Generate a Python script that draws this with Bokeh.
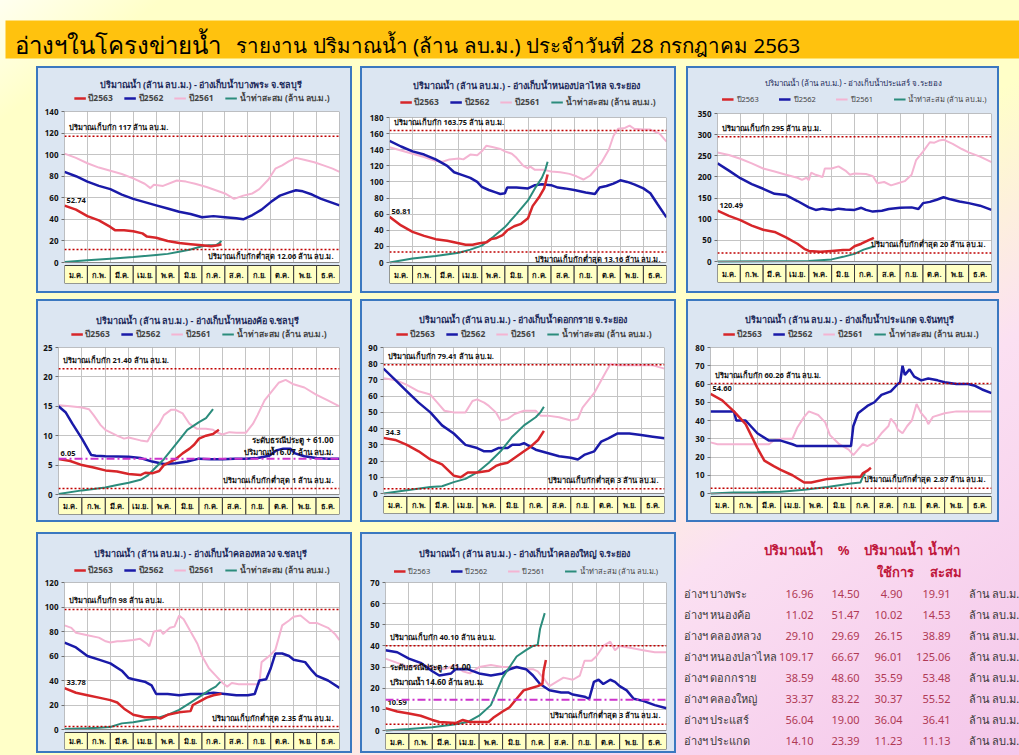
from bokeh.plotting import figure
from bokeh.layouts import column, row
from bokeh.models import Range1d, FixedTicker, Span, Label, Legend, LegendItem, Spacer, ColumnDataSource
from bokeh.core.properties import value
from bokeh.embed import file_html
from bokeh.resources import INLINE

FONT = "Noto Sans"

MONTHS = ["ม.ค.", "ก.พ.", "มี.ค.", "เม.ย.", "พ.ค.", "มิ.ย.", "ก.ค.", "ส.ค.", "ก.ย.", "ต.ค.", "พ.ย.", "ธ.ค."]
SERIES_LABELS = ["ปี2563", "ปี2562", "ปี2561", "น้ำท่าสะสม (ล้าน ลบ.ม.)"]

TITLES = [
    "ปริมาณน้ำ (ล้าน ลบ.ม.) - อ่างเก็บน้ำบางพระ  จ.ชลบุรี",
    "ปริมาณน้ำ (ล้าน ลบ.ม.) - อ่างเก็บน้ำหนองปลาไหล  จ.ระยอง",
    "ปริมาณน้ำ (ล้าน ลบ.ม.) - อ่างเก็บน้ำประแสร์  จ.ระยอง",
    "ปริมาณน้ำ (ล้าน ลบ.ม.) - อ่างเก็บน้ำหนองค้อ  จ.ชลบุรี",
    "ปริมาณน้ำ (ล้าน ลบ.ม.) - อ่างเก็บน้ำดอกกราย  จ.ระยอง",
    "ปริมาณน้ำ (ล้าน ลบ.ม.) - อ่างเก็บน้ำประแกด  จ.จันทบุรี",
    "ปริมาณน้ำ (ล้าน ลบ.ม.) - อ่างเก็บน้ำคลองหลวง  จ.ชลบุรี",
    "ปริมาณน้ำ (ล้าน ลบ.ม.) - อ่างเก็บน้ำคลองใหญ่  จ.ระยอง",
]
Y_MAX = [140, 180, 350, 25, 90, 80, 120, 70]
Y_STEP = [20, 20, 50, 5, 10, 10, 20, 10]
CAPACITY = [117, 163.75, 295, 21.40, 79.41, 60.26, 98, 40.10]
CAPACITY_TXT = ["117", "163.75", "295", "21.40", "79.41", "60.26", "98", "40.10"]
MIN_STORAGE = [12.06, 13.16, 20, 1, 3, 2.87, 2.35, 3]
MIN_TXT = ["12.06", "13.16", "20", "1", "3", "2.87", "2.35", "3"]
START_TXT = ["52.74", "56.81", "120.49", "6.05", "34.3", "54.60", "33.78", "10.59"]
SILL_LEVEL = [None, None, None, 6.07, None, None, None, 14.60]
SILL_TXT = [None, None, None, "61.00", None, None, None, "41.00"]

# (month position, million m3)
BANGPHRA_2561 = [(0,101),(0.5,97),(1,92),(1.5,88),(2,85),(2.5,82),(3,78),(3.5,73),(3.75,69),(3.9,72),(4.3,71),(4.9,76),(5.3,75),(5.7,73),(6.2,70),(6.6,67),(7.0,64),(7.4,59),(7.8,62),(8.2,64),(8.5,68),(8.9,77),(9.2,87),(9.5,90),(9.8,94),(10.1,97),(10.5,95),(10.9,93),(11.3,90),(11.7,87),(12,84)]
BANGPHRA_2562 = [(0,84),(0.5,80),(1,75),(1.5,71),(2,68),(2.5,63),(3,59),(3.5,56),(4,53),(4.5,50),(5,47),(5.5,45),(6,42),(6.5,43),(7,42),(7.5,41),(7.8,40),(8.2,44),(8.6,49),(9,56),(9.4,62),(9.8,65),(10.1,67),(10.4,66),(10.8,63),(11.2,59),(11.6,56),(12,53)]
BANGPHRA_2563 = [(0,52.74),(0.5,49),(1,43),(1.5,39),(2,33),(2.2,30),(2.6,30),(3,29),(3.4,27),(3.6,24),(4,23),(4.5,20),(5,18),(5.5,17),(6,16),(6.4,15),(6.7,16),(6.85,16.96)]
BANGPHRA_ACC = [(0,0.5),(1,2),(2,3.5),(3,5),(4,7),(4.5,8),(5,10),(5.5,12),(6,15),(6.3,16),(6.6,16),(6.75,18),(6.85,19.91)]

NONGPLALAI_2561 = [(0,143),(0.5,139),(1,135),(1.5,131),(2,126),(2.3,125),(2.6,128),(3,129),(3.2,128),(3.5,134),(3.8,133),(4,138),(4.2,145),(4.5,143),(4.8,141),(5,138),(5.3,135),(5.5,130),(5.8,120),(6,117),(6.1,119),(6.3,115),(6.7,115),(7,113),(7.4,112),(7.8,110),(8.1,107),(8.4,103),(8.7,108),(9,118),(9.2,125),(9.5,140),(9.7,157),(9.9,166),(10.2,167),(10.4,170),(10.6,166),(11,165),(11.3,165),(11.7,160),(12,150)]
NONGPLALAI_2562 = [(0,151),(0.5,144),(1,138),(1.5,134),(2,128),(2.5,120),(2.8,112),(3.1,109),(3.5,105),(3.8,100),(4,94),(4.3,90),(4.6,87),(4.8,85),(5,86),(5.1,93),(5.5,93),(6,92),(6.3,96),(6.6,97),(7,96),(7.3,93),(7.6,92),(8,90),(8.5,87),(8.9,85),(9.1,93),(9.4,95),(9.7,98),(10,102),(10.3,100),(10.6,97),(11,92),(11.3,86),(11.6,73),(12,56)]
NONGPLALAI_2563 = [(0,56.81),(0.5,46),(1,38),(1.5,33),(2,29),(2.5,27),(3,24),(3.3,22),(3.6,22),(3.9,24),(4.2,25),(4.4,29),(4.6,30),(4.9,34),(5.1,40),(5.4,45),(5.7,48),(6,55),(6.2,70),(6.5,82),(6.7,92),(6.85,109.17)]
NONGPLALAI_ACC = [(0,0),(1,5),(2,8),(3,12),(3.5,16),(4,21),(4.5,32),(5,44),(5.5,60),(6,77),(6.3,92),(6.6,105),(6.75,115),(6.85,125.06)]

PRASAE_2561 = [(0,258),(0.5,252),(1,243),(1.5,232),(2,220),(2.5,213),(3,205),(3.5,198),(3.7,193),(3.9,198),(4,192),(4.1,210),(4.3,205),(4.6,200),(4.7,220),(5,220),(5.3,225),(5.6,215),(5.8,205),(6,208),(6.5,207),(6.8,202),(7,185),(7.3,188),(7.6,180),(7.9,185),(8.2,190),(8.5,205),(8.7,240),(9,260),(9.3,282),(9.5,281),(9.7,286),(9.9,288),(10.3,278),(10.7,266),(11,258),(11.5,248),(12,235)]
PRASAE_2562 = [(0,232),(0.5,215),(1,197),(1.5,183),(2,172),(2.5,160),(3,157),(3.5,143),(4,128),(4.3,122),(4.6,125),(5,122),(5.3,125),(5.6,123),(6,122),(6.3,127),(6.5,122),(6.8,118),(7.2,120),(7.5,124),(8,127),(8.5,128),(8.8,124),(9,138),(9.3,141),(9.6,146),(9.9,152),(10.2,147),(10.6,142),(11,138),(11.5,132),(12,122)]
PRASAE_2563 = [(0,120.49),(0.5,108),(1,98),(1.5,85),(2,75),(2.5,70),(3,57),(3.5,42),(3.8,30),(4,25),(4.5,23),(5,25),(5.5,27),(5.8,28),(6,36),(6.3,42),(6.6,50),(6.85,56.04)]
PRASAE_ACC = [(0,0),(4,1),(4.5,3),(5,5),(5.5,11),(6,18),(6.4,28),(6.7,33),(6.85,36.41)]

NONGKHO_2561 = [(0,15.2),(0.5,15),(1,14.8),(1.3,14.5),(1.5,13.5),(1.8,11.8),(2,11),(2.5,10),(2.8,9.5),(3,9.7),(3.5,9.2),(3.8,9),(4,10.5),(4.3,12),(4.5,13.5),(4.8,14.4),(5,14.4),(5.3,13.8),(5.6,12),(5.9,11.2),(6.3,11.2),(6.6,11),(6.8,10.5),(7,10.2),(7.3,10.6),(7.6,10.5),(8,10.5),(8.3,12),(8.5,13.5),(8.8,16),(9.1,17.5),(9.4,19),(9.7,19.5),(10,18.8),(10.5,18.2),(11,17),(11.5,16),(12,15)]
NONGKHO_2562 = [(0,15),(0.3,14),(0.6,12),(1,9.5),(1.4,6.7),(1.6,6.6),(2,6.5),(3,6.4),(3.5,6.2),(4,5.6),(4.5,5.2),(5,5.3),(5.5,5.6),(6,6.1),(6.5,6),(7,6),(7.5,6.1),(8,6.1),(8.5,6.2),(9,6.6),(9.3,7.5),(9.6,7.8),(9.9,7.8),(10.1,7),(10.5,6.5),(11,6.2),(11.5,6.1),(12,6.1)]
NONGKHO_2563 = [(0,6.05),(0.5,5.7),(1,5),(1.5,4.6),(2,4.1),(2.5,3.9),(3,3.5),(3.5,3.3),(3.7,3.7),(4,3.6),(4.3,4),(4.5,5),(5,6),(5.3,7),(5.6,7.8),(5.8,8.5),(6,9.5),(6.3,10),(6.6,10.3),(6.85,11.02)]
NONGKHO_ACC = [(0,0.1),(1,0.7),(2,1.2),(2.5,1.6),(3,2),(3.5,2.5),(3.8,3.2),(4,4),(4.5,6),(5,8.5),(5.5,11),(6,12.3),(6.3,13),(6.5,14),(6.6,14.53)]

DOKKRAI_2561 = [(0,71),(0.5,70),(1,67),(1.5,63),(2,61),(2.3,56),(2.6,51),(3,50),(3.5,50),(3.8,57),(4,58),(4.3,56),(4.5,54),(4.8,50),(5,45),(5.3,46),(5.6,49),(6,51),(6.5,51),(6.7,48),(7,48),(7.5,47),(8,45),(8.3,46),(8.5,53),(9,62),(9.5,75),(9.7,80),(10,79),(10.5,79),(11,79),(11.5,79),(12,77)]
DOKKRAI_2562 = [(0,77),(0.5,70),(1,63),(1.5,56),(2,50),(2.5,42),(3,37),(3.5,30),(4,28),(4.3,26),(4.6,26),(4.9,28),(5.3,28),(5.5,30),(5.8,30),(6,31),(6.5,27),(7,25),(7.5,23),(8,22),(8.3,21),(8.6,24),(9,26),(9.3,32),(9.6,34),(10,37),(10.5,37),(11,36),(11.5,35),(12,34)]
DOKKRAI_2563 = [(0,34.3),(0.5,33),(1,30),(1.5,26),(2,21),(2.5,18),(3,11),(3.3,10),(3.6,13),(4,13),(4.5,14),(4.8,17),(5,18),(5.3,19),(5.5,21),(6,26),(6.3,29),(6.6,33),(6.85,38.59)]
DOKKRAI_ACC = [(0,0),(1,2),(2,4),(2.5,4.5),(3,7),(3.5,9),(4,13),(4.5,19),(5,26),(5.5,35),(6,42),(6.5,47),(6.7,50),(6.85,53.48)]

PRAKAED_2561 = [(0,28),(0.3,27),(1,27),(2,27),(2.5,27),(2.7,29),(3,30),(3.5,30),(3.7,36),(4,42),(4.2,45),(4.6,43),(4.9,39),(5.1,32),(5.5,27),(5.9,24),(6.1,21),(6.3,24),(6.5,27),(6.7,26),(7,28),(7.3,33),(7.6,37),(7.7,41),(7.9,38),(8,35),(8.2,33),(8.4,37),(8.6,40),(8.8,49),(9,44),(9.2,41),(9.3,38),(9.5,42),(10,44),(10.5,45),(12,45)]
PRAKAED_2562 = [(0,45),(1,45),(1.1,40),(1.5,40),(2,33),(2.5,29),(3,29),(3.5,27),(3.7,26),(6,26),(6.1,37),(6.3,44),(6.7,48),(7,50),(7.3,54),(7.7,56),(8,60),(8.1,61),(8.2,70),(8.3,65),(8.5,68),(8.7,64),(9,62),(9.3,63),(9.7,62),(10,61),(10.5,60),(11,60),(11.3,59),(11.6,57),(12,55)]
PRAKAED_2563 = [(0,54.6),(0.5,51),(1,45),(1.5,38),(2,25),(2.3,18),(2.7,15),(3,13),(3.5,10),(4,6),(4.3,6),(5,8),(5.5,8.5),(6,9),(6.4,9),(6.5,11),(6.7,12.5),(6.85,14.1)]
PRAKAED_ACC = [(0,0),(1,0.5),(2,0.7),(3,1),(4,2),(5,3.5),(6,5.5),(6.4,6),(6.5,9),(6.6,11.13)]

KHLONGLUANG_2561 = [(0,85),(0.3,83),(0.5,79),(1,77),(1.5,75),(1.8,72),(2,71),(2.3,72),(2.5,72),(3,73),(3.3,74),(3.6,70),(3.7,68),(3.9,80),(4.2,81),(4.3,78),(4.6,83),(4.8,84),(5,93),(5.2,90),(5.5,80),(5.8,70),(6,60),(6.3,50),(6.6,44),(6.9,38),(7.1,35),(7.3,38),(7.6,37),(8,37),(8.5,37),(8.6,55),(9,61),(9.2,65),(9.5,85),(9.8,89),(10,92),(10.3,93),(10.5,90),(10.7,87),(11,87),(11.5,83),(11.8,78),(12,73)]
KHLONGLUANG_2562 = [(0,71),(0.5,67),(1,60),(1.5,57),(2,54),(2.5,48),(2.8,42),(3,41),(3.5,39),(3.8,36),(4,29),(4.5,29),(5,28),(5.5,29),(6,29),(6.5,30),(7,29),(7.5,28),(8,28),(8.3,29),(8.5,40),(8.8,41),(9,50),(9.2,62),(9.5,62),(9.8,60),(10,57),(10.5,55),(10.8,48),(11,44),(11.5,40),(12,34)]
KHLONGLUANG_2563 = [(0,33.78),(0.5,30),(1,28),(1.5,26),(2,24),(2.3,22),(2.6,17),(3,12),(3.5,10),(4,10),(4.2,9),(4.5,12),(5,14),(5.5,15),(5.6,20),(5.9,23),(6.2,26),(6.5,28),(6.85,29.1)]
KHLONGLUANG_ACC = [(0,0.5),(1,1),(1.5,1.5),(2,2),(2.5,5),(3,6),(3.5,7.5),(4,9),(4.5,12),(5,16),(5.5,22),(6,28),(6.4,33),(6.6,35),(6.8,38.89)]

KHLONGYAI_2561 = [(0,34),(0.5,32),(1,30),(1.5,31),(2,30),(2.5,29),(3,31),(3.3,28),(3.6,27),(4,30),(4.5,31),(5,30),(5.5,30),(6,29),(6.3,29),(6.5,28),(6.8,24),(7,21),(7.3,23),(7.6,25),(8,24),(8.3,26),(8.5,33),(8.8,33),(9,35),(9.3,40),(9.6,42),(9.8,38),(10,40),(10.5,39),(11,38),(11.5,37),(12,37)]
KHLONGYAI_2562 = [(0,38),(0.5,37),(1,34),(1.5,32),(2,28),(2.3,26),(2.8,27),(3,29),(3.5,29),(4,27),(4.5,26),(5,27),(5.3,29),(5.6,30),(6,29),(6.3,26),(6.6,22),(7,19),(7.5,18),(7.8,18),(8,17),(8.5,16),(8.7,15),(8.9,23),(9.1,24),(9.3,22),(9.6,24),(9.8,23),(10,21),(10.3,19),(10.6,15),(11,14),(11.5,12),(12,10.5)]
KHLONGYAI_2563 = [(0,10.59),(0.5,9),(1,8),(1.5,7),(2,5),(2.3,4),(3,3.5),(3.3,5),(3.6,4),(4,4),(4.4,4),(4.6,6),(5,9),(5.3,11),(5.6,15),(5.9,19),(6.2,20),(6.5,21),(6.7,22),(6.75,28),(6.85,33.37)]
KHLONGYAI_ACC = [(0,0),(1,0.7),(2,1.5),(3,3),(3.5,4),(4,7),(4.5,12),(5,25),(5.3,30),(5.6,35),(6,38),(6.3,40),(6.5,40.5),(6.6,48),(6.8,55.52)]

SERIES = [
    (BANGPHRA_2563, BANGPHRA_2562, BANGPHRA_2561, BANGPHRA_ACC),
    (NONGPLALAI_2563, NONGPLALAI_2562, NONGPLALAI_2561, NONGPLALAI_ACC),
    (PRASAE_2563, PRASAE_2562, PRASAE_2561, PRASAE_ACC),
    (NONGKHO_2563, NONGKHO_2562, NONGKHO_2561, NONGKHO_ACC),
    (DOKKRAI_2563, DOKKRAI_2562, DOKKRAI_2561, DOKKRAI_ACC),
    (PRAKAED_2563, PRAKAED_2562, PRAKAED_2561, PRAKAED_ACC),
    (KHLONGLUANG_2563, KHLONGLUANG_2562, KHLONGLUANG_2561, KHLONGLUANG_ACC),
    (KHLONGYAI_2563, KHLONGYAI_2562, KHLONGYAI_2561, KHLONGYAI_ACC),
]

# table
TABLE_NAMES = ["อ่างฯ บางพระ", "อ่างฯ หนองค้อ", "อ่างฯ คลองหลวง", "อ่างฯ หนองปลาไหล",
               "อ่างฯ ดอกกราย", "อ่างฯ คลองใหญ่", "อ่างฯ ประแสร์", "อ่างฯ ประแกด"]
TABLE_VOLUME = ["16.96", "11.02", "29.10", "109.17", "38.59", "33.37", "56.04", "14.10"]
TABLE_PCT = ["14.50", "51.47", "29.69", "66.67", "48.60", "83.22", "19.00", "23.39"]
TABLE_USABLE = ["4.90", "10.02", "26.15", "96.01", "35.59", "30.37", "36.04", "11.23"]
TABLE_INFLOW = ["19.91", "14.53", "38.89", "125.06", "53.48", "55.52", "36.41", "11.13"]
TABLE_UNIT = "ล้าน ลบ.ม."
TABLE_HEAD1 = ["ปริมาณน้ำ", "%", "ปริมาณน้ำ", "น้ำท่า"]
TABLE_HEAD2 = ["", "", "ใช้การ", "สะสม"]

# ---------------- styling ----------------
COLORS = ["#D7262A", "#1A1AA8", "#F4B4D2", "#2B8C7C"]
WIDTHS = [2.5, 2.5, 2, 2]
PANEL_BG = "#DCE6F2"
PANEL_EDGE = "#3B78C0"
# panel geometry: width, height, frame left, right, top, zero-line, bottom, title y, legend y
GEOM = [
    (316, 227, 28, 303, 45, 196, 217, 18, 34),
    (316, 227, 29, 306, 51, 196, 217, 19, 38),
    (313, 227, 31, 305, 47, 195, 216, 16, 34),
    (316, 223, 22, 303, 48, 195, 215, 21, 37),
    (316, 223, 23, 304, 48, 194, 214, 20, 37),
    (313, 223, 24, 305, 48, 194, 214, 20, 37),
    (316, 221, 28, 303, 50, 197, 217, 21, 40),
    (316, 221, 25, 306, 50, 198, 217, 21, 40),
]
MIN_BELOW = [True, True, False, False, False, False, False, False]
SMALL_LEGEND = [False, False, True, False, False, False, False, True]


def build_panel(i):
    w, h, L, R, T, Z, B, ty, ly = GEOM[i]
    top_h = ly + 5
    ch = h - top_h
    small = SMALL_LEGEND[i]

    # ---- title + legend strip ----
    top = figure(width=w, height=top_h, x_range=Range1d(0, w), y_range=Range1d(top_h, 0),
                 output_backend="svg", toolbar_location=None,
                 min_border_left=0, min_border_right=0, min_border_top=0, min_border_bottom=0,
                 background_fill_alpha=0, border_fill_alpha=0, outline_line_color=None)
    top.axis.visible = False
    top.grid.visible = False
    top.add_layout(Label(x=w / 2, y=ty, text=TITLES[i], text_align="center", text_baseline="middle",
                         text_font=FONT, text_font_size=("8px" if i == 2 else "9px"),
                         text_font_style=("normal" if i == 2 else "bold"), text_color="#1C2A5A"))
    proxies = []
    for k in range(4):
        xs = [a for a, b in SERIES[i][k]]
        ys = [b for a, b in SERIES[i][k]]
        proxies.append(top.line(xs, ys, line_color=COLORS[k], line_width=WIDTHS[k], visible=False))
    items = [LegendItem(label=SERIES_LABELS[k], renderers=[proxies[k]]) for k in range(4)]
    leg = Legend(items=items, orientation="horizontal", location="bottom_center",
                 label_text_font=FONT, label_text_font_size=("7.5px" if small else "8.5px"),
                 label_text_font_style=("normal" if small else "bold"),
                 glyph_width=12, glyph_height=8, spacing=(20 if small else 11), label_standoff=3,
                 padding=0, margin=0, background_fill_alpha=0, border_line_alpha=0,
                 label_height=10, inactive_fill_alpha=0)
    top.add_layout(leg)

    # ---- chart ----
    ymax = Y_MAX[i]
    plot_px = Z - T
    ystart = -ymax * (B - Z) / plot_px
    gap = ymax * 3.0 / plot_px
    p = figure(width=w, height=ch, x_range=Range1d(0, 12), y_range=Range1d(ystart, ymax),
               output_backend="svg", toolbar_location=None,
               min_border_left=L, min_border_right=w - R, min_border_top=T - top_h,
               min_border_bottom=h - B,
               background_fill_color="white", border_fill_alpha=0, outline_line_color=None)
    p.xaxis.visible = False
    p.xgrid.ticker = FixedTicker(ticks=list(range(len(MONTHS) + 1)))
    yt = list(range(0, ymax + 1, Y_STEP[i]))
    p.yaxis.ticker = FixedTicker(ticks=yt)
    p.ygrid.ticker = FixedTicker(ticks=yt)
    for g in (p.xgrid, p.ygrid):
        g.grid_line_color = "#C4C4C4"
        g.grid_line_width = 1
    ax = p.yaxis[0]
    ax.axis_line_color = None
    ax.major_tick_line_color = "#707070"
    ax.major_tick_out = 3
    ax.major_tick_in = 0
    ax.minor_tick_line_color = None
    ax.major_label_text_font = FONT
    ax.major_label_text_font_size = "8px"
    ax.major_label_text_font_style = "bold"
    ax.major_label_text_color = "#111111"
    ax.major_label_standoff = 3

    p.quad(left=[0], right=[len(MONTHS)], bottom=[ystart], top=[0],
           fill_color=PANEL_BG, line_color=None)
    src = ColumnDataSource(dict(left=list(range(len(MONTHS))), right=list(range(1, len(MONTHS) + 1)),
                                mid=[k + 0.5 for k in range(len(MONTHS))], lab=MONTHS))
    p.quad(left="left", right="right", bottom=ystart, top=-gap, source=src,
           fill_color="#FFFFC4", line_color="#3A3A3A", line_width=1)
    p.text(x="mid", y=(ystart - gap) / 2, text="lab", source=src, text_align="center",
           text_baseline="middle", text_font=value(FONT), text_font_size="7.5px",
           text_font_style="bold", text_color="#111111")

    renderers = []
    for k, ser in enumerate(SERIES[i]):
        xs = [a for a, b in ser]
        ys = [b for a, b in ser]
        r = p.line(xs, ys, line_color=COLORS[k], line_width=WIDTHS[k])
        renderers.append(r)
    p.renderers = p.renderers[:3] + [renderers[2], renderers[1], renderers[3], renderers[0]]

    p.quad(left=[0], right=[len(MONTHS)], bottom=[0], top=[ymax], fill_color=None,
           line_color="#8A8A8A", line_width=1)

    p.add_layout(Span(location=CAPACITY[i], dimension="width", line_color="#C00000",
                      line_dash="2 2", line_width=1.5))
    p.add_layout(Span(location=MIN_STORAGE[i], dimension="width", line_color="#C00000",
                      line_dash="2 2", line_width=1.5))
    lab_style = dict(text_font=FONT, text_font_size="7.5px", text_font_style="bold", text_color="#111111")
    p.add_layout(Label(x=0, y=CAPACITY[i], x_offset=4, y_offset=4,
                       text="ปริมาณเก็บกัก %s ล้าน ลบ.ม." % CAPACITY_TXT[i], **lab_style))
    p.add_layout(Label(x=len(MONTHS), y=MIN_STORAGE[i], x_offset=-6,
                       y_offset=(-12 if MIN_BELOW[i] else 4), text_align="right",
                       text="ปริมาณเก็บกักต่ำสุด %s ล้าน ลบ.ม." % MIN_TXT[i], **lab_style))
    p.add_layout(Label(x=0, y=SERIES[i][0][0][1], x_offset=2, y_offset=3,
                       text=START_TXT[i], **lab_style))
    if SILL_LEVEL[i] is not None:
        p.add_layout(Span(location=SILL_LEVEL[i], dimension="width", line_color="#CC33CC",
                          line_dash="8 3 2 3", line_width=2))
        sill_style = dict(lab_style, text_font_size="8px")
        if i == 3:
            p.add_layout(Label(x=len(MONTHS), y=SILL_LEVEL[i], x_offset=-6, y_offset=14,
                               text_align="right", text="ระดับธรณีประตู + %s" % SILL_TXT[i], **sill_style))
            p.add_layout(Label(x=len(MONTHS), y=SILL_LEVEL[i], x_offset=-6, y_offset=2,
                               text_align="right", text="ปริมาณน้ำ %.2f ล้าน ลบ.ม." % SILL_LEVEL[i], **sill_style))
        else:
            p.add_layout(Label(x=0, y=SILL_LEVEL[i], x_offset=4, y_offset=28,
                               text="ระดับธรณีประตู + %s" % SILL_TXT[i], **sill_style))
            p.add_layout(Label(x=0, y=SILL_LEVEL[i], x_offset=4, y_offset=13,
                               text="ปริมาณน้ำ %.2f ล้าน ลบ.ม." % SILL_LEVEL[i], **sill_style))

    return column(top, p, spacing=0,
                  styles={"background-color": PANEL_BG, "box-shadow": "inset 0 0 0 2px " + PANEL_EDGE})


panels = [build_panel(i) for i in range(8)]

# header
header = figure(width=1019, height=62, x_range=Range1d(0, 1019), y_range=Range1d(62, 0),
                output_backend="svg", toolbar_location=None,
                min_border_left=5, min_border_right=0, min_border_top=20, min_border_bottom=4,
                background_fill_color="#FFC20E", border_fill_alpha=0, outline_line_color=None)
header.axis.visible = False
header.grid.visible = False
header.add_layout(Label(x=10, y=39, text="อ่างฯในโครงข่ายน้ำ", text_font=FONT, text_font_size="24px",
                        text_baseline="middle", text_color="#000000"))
header.add_layout(Label(x=232, y=40, text="รายงาน ปริมาณน้ำ (ล้าน ลบ.ม.) ประจำวันที่ 28 กรกฎาคม 2563",
                        text_font=FONT, text_font_size="20.5px", text_baseline="middle", text_color="#000000"))

# table
tab = figure(width=341, height=223, x_range=Range1d(0, 341), y_range=Range1d(223, 0),
             output_backend="svg", toolbar_location=None,
             min_border_left=0, min_border_right=0, min_border_top=0, min_border_bottom=0,
             background_fill_alpha=0, border_fill_alpha=0, outline_line_color=None)
tab.axis.visible = False
tab.grid.visible = False
HEAD_X = [115, 165, 215, 265]
HEAD2_X = [115, 165, 217, 267]
COL_RIGHT = [135, 181, 224, 272]
ROW_Y0, ROW_DY = 61, 21
tab.text(x=HEAD_X, y=[17] * 4, text=TABLE_HEAD1, text_align="center", text_baseline="middle",
         text_font=value(FONT), text_font_size="13px", text_font_style="bold", text_color="#C0183C")
tab.text(x=HEAD2_X, y=[39] * 4, text=TABLE_HEAD2, text_align="center", text_baseline="middle",
         text_font=value(FONT), text_font_size="13px", text_font_style="bold", text_color="#C0183C")
ys = [ROW_Y0 + ROW_DY * k for k in range(len(TABLE_NAMES))]
tab.text(x=[5] * len(ys), y=ys, text=TABLE_NAMES, text_baseline="middle",
         text_font=value(FONT), text_font_size="11px", text_color="#3A3A3A")
for cx, col in zip(COL_RIGHT, [TABLE_VOLUME, TABLE_PCT, TABLE_USABLE, TABLE_INFLOW]):
    tab.text(x=[cx] * len(ys), y=ys, text=col, text_align="right", text_baseline="middle",
             text_font=value(FONT), text_font_size="11px", text_color="#B03A55")
tab.text(x=[290] * len(ys), y=ys, text=[TABLE_UNIT] * len(ys), text_baseline="middle",
         text_font=value(FONT), text_font_size="11px", text_color="#3A3A3A")

row1 = row(Spacer(width=36, height=227), panels[0], Spacer(width=8, height=227), panels[1],
           Spacer(width=10, height=227), panels[2], spacing=0)
row2 = row(Spacer(width=36, height=223), panels[3], Spacer(width=8, height=223), panels[4],
           Spacer(width=10, height=223), panels[5], spacing=0)
row3 = row(Spacer(width=36, height=223), panels[6], Spacer(width=8, height=223), panels[7],
           Spacer(width=2, height=223), tab, spacing=0)
page = column(header, Spacer(width=1019, height=4), row1, Spacer(width=1019, height=6), row2,
              Spacer(width=1019, height=10), row3, spacing=0,
              styles={"background": "linear-gradient(to bottom right, #FFFFF0 0%, #FFFFC8 8%, #FFFFC8 55%, #FBE0F2 72%, #F4C6EA 100%)"})

open("out.html", "w").write(file_html(page, INLINE))
